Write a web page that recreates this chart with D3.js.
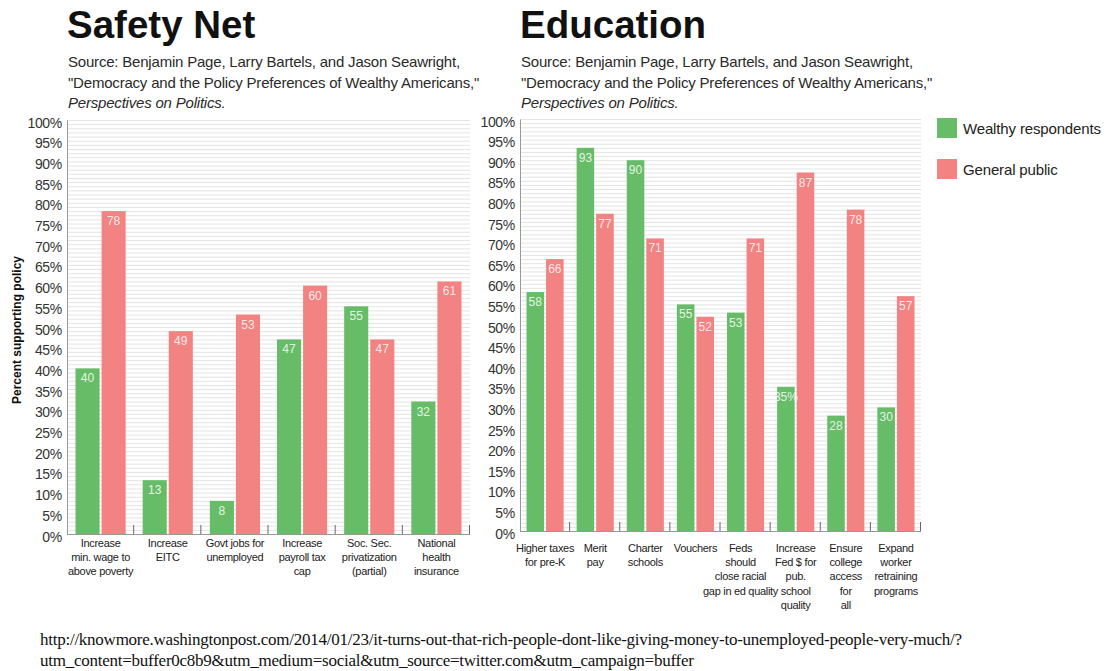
<!DOCTYPE html>
<html>
<head>
<meta charset="utf-8">
<script src="https://cdn.jsdelivr.net/npm/d3@7"></script>
<style>
  html, body { margin: 0; padding: 0; background: #fff; }
  svg { display: block; font-family: "Liberation Sans", Arial, sans-serif; }
</style>
</head>
<body>
<svg id="chart" width="1107" height="671"></svg>
<script>
// ---- Data ----
const seriesNames = ["Wealthy respondents", "General public"];

const safetyCategories = [
  ["Increase", "min. wage to", "above poverty"],
  ["Increase", "EITC"],
  ["Govt jobs for", "unemployed"],
  ["Increase", "payroll tax", "cap"],
  ["Soc. Sec.", "privatization", "(partial)"],
  ["National", "health", "insurance"]
];
const safetyWealthy = [40, 13, 8, 47, 55, 32];
const safetyPublic  = [78, 49, 53, 60, 47, 61];

const eduCategories = [
  ["Higher taxes", "for pre-K"],
  ["Merit", "pay"],
  ["Charter", "schools"],
  ["Vouchers"],
  ["Feds", "should", "close racial", "gap in ed quality"],
  ["Increase", "Fed $ for", "pub.", "school", "quality"],
  ["Ensure", "college", "access", "for", "all"],
  ["Expand", "worker", "retraining", "programs"]
];
const eduWealthy = [58, 93, 90, 55, 53, 35, 28, 30];
const eduPublic  = [66, 77, 71, 52, 71, 87, 78, 57];
const eduWealthyLabels = ["58", "93", "90", "55", "53", "35%", "28", "30"];

const yTicks = d3.range(0, 101, 5);
const sourceLines = [
  "Source: Benjamin Page, Larry Bartels, and Jason Seawright,",
  "\"Democracy and the Policy Preferences of Wealthy Americans,\"",
  "Perspectives on Politics."
];
const footerLines = [
  "http://knowmore.washingtonpost.com/2014/01/23/it-turns-out-that-rich-people-dont-like-giving-money-to-unemployed-people-very-much/?",
  "utm_content=buffer0c8b9&utm_medium=social&utm_source=twitter.com&utm_campaign=buffer"
];

const GREEN = "#67bd67";
const RED = "#f28382";

const svg = d3.select("#chart");
svg.append("rect").attr("width", 1107).attr("height", 671).attr("fill", "#fff");

function panel(opts) {
  const { left, right, top, bottom, title, cats, wealthy, pub, wLabels, padOuter, labelTop, labelShift } = opts;
  const g = svg.append("g");

  // title
  g.append("text").attr("x", left).attr("y", 38)
    .attr("font-size", 38.5).attr("font-weight", "bold").attr("fill", "#111")
    .text(title);

  // source
  sourceLines.forEach((s, i) => {
    g.append("text").attr("x", left + 1).attr("y", 67 + i * 20.5)
      .attr("font-size", 15).attr("fill", "#2a2a2a")
      .attr("font-style", i === 2 ? "italic" : "normal")
      .attr("letter-spacing", "-0.2")
      .text(s);
  });

  const x = d3.scaleBand().domain(d3.range(cats.length)).range([left, right]).paddingInner(0).paddingOuter(0);
  const y = d3.scaleLinear().domain([0, 100]).range([bottom, top]);

  // grid lines every 1%
  g.append("g").selectAll("line").data(d3.range(1, 101)).join("line")
    .attr("x1", left).attr("x2", right)
    .attr("y1", d => y(d) + 0.5).attr("y2", d => y(d) + 0.5)
    .attr("stroke", "#e4e4e4").attr("stroke-width", 1);

  // y axis
  const yAxis = d3.axisLeft(y).tickValues(yTicks).tickFormat(d => d + "%").tickSize(0).tickPadding(5);
  const ya = g.append("g").attr("transform", `translate(${left},0)`).call(yAxis);
  ya.select(".domain").attr("stroke", "#999");
  ya.selectAll("text").attr("font-size", 14).attr("fill", "#333")
    .attr("font-family", null).attr("letter-spacing", "-0.3").attr("dy", "0.5em");

  // bars
  const bw = x.bandwidth();
  const barW = (bw - 2 * padOuter - 2) / 2;
  const data = cats.map((c, i) => ({ i, w: wealthy[i], p: pub[i], wl: wLabels ? wLabels[i] : String(wealthy[i]) }));

  const bars = g.append("g");
  bars.selectAll("rect.w").data(data).join("rect").attr("class", "w")
    .attr("x", d => x(d.i) + padOuter).attr("width", barW)
    .attr("y", d => y(d.w)).attr("height", d => y(0) - y(d.w)).attr("fill", GREEN);
  bars.selectAll("rect.p").data(data).join("rect").attr("class", "p")
    .attr("x", d => x(d.i) + padOuter + barW + 2).attr("width", barW)
    .attr("y", d => y(d.p)).attr("height", d => y(0) - y(d.p)).attr("fill", RED);

  // value labels
  bars.selectAll("text.wl").data(data).join("text").attr("class", "wl")
    .attr("x", d => x(d.i) + padOuter + barW / 2).attr("y", d => y(d.w) + 14)
    .attr("text-anchor", "middle").attr("font-size", 12).attr("fill", "#fff").attr("fill-opacity", 0.85)
    .text(d => d.wl);
  bars.selectAll("text.pl").data(data).join("text").attr("class", "pl")
    .attr("x", d => x(d.i) + padOuter + barW * 1.5 + 2).attr("y", d => y(d.p) + 14)
    .attr("text-anchor", "middle").attr("font-size", 12).attr("fill", "#fff").attr("fill-opacity", 0.85)
    .text(d => d.p);

  // baseline and category ticks
  g.append("line").attr("x1", left).attr("x2", right).attr("y1", y(0) + 0.5).attr("y2", y(0) + 0.5)
    .attr("stroke", "#999");
  g.append("g").selectAll("line").data(d3.range(1, cats.length + 1)).join("line")
    .attr("x1", d => (d === cats.length ? right : x(d)) - 0.5).attr("x2", d => (d === cats.length ? right : x(d)) - 0.5)
    .attr("y1", y(0)).attr("y2", y(0) - 9).attr("stroke", "#666");

  // category labels
  const cx = i => x(i) + bw / 2 + ((labelShift && labelShift[i]) || 0);
  const cl = g.append("g").selectAll("text").data(data).join("text")
    .attr("text-anchor", "middle").attr("font-size", 11).attr("fill", "#222")
    .attr("letter-spacing", "-0.3")
    .attr("x", d => cx(d.i)).attr("y", labelTop);
  cl.selectAll("tspan").data(d => cats[d.i].map(s => ({ s, cx: cx(d.i) }))).join("tspan")
    .attr("x", t => t.cx).attr("dy", (t, j) => j === 0 ? 0 : 14.2).text(t => t.s);

  return { x, y };
}

panel({ left: 67, right: 470, top: 120, bottom: 534, title: "Safety Net",
  cats: safetyCategories, wealthy: safetyWealthy, pub: safetyPublic, padOuter: 8.5, labelTop: 547 });
panel({ left: 520, right: 921, top: 119, bottom: 531, title: "Education",
  cats: eduCategories, wealthy: eduWealthy, pub: eduPublic, wLabels: eduWealthyLabels, padOuter: 6.5, labelTop: 552,
  labelShift: { 4: -5 } });

// y axis title
svg.append("text").attr("transform", "translate(21,330) rotate(-90)")
  .attr("text-anchor", "middle").attr("font-size", 12).attr("font-weight", "bold").attr("fill", "#111")
  .text("Percent supporting policy");

// legend
const legend = svg.append("g").attr("transform", "translate(937,118)");
seriesNames.forEach((n, i) => {
  legend.append("rect").attr("x", 0).attr("y", i * 41).attr("width", 20).attr("height", 20)
    .attr("fill", i === 0 ? GREEN : RED);
  legend.append("text").attr("x", 26).attr("y", i * 41 + 15.5).attr("font-size", 15).attr("fill", "#222")
    .attr("letter-spacing", "-0.15")
    .text(n);
});

// footer
footerLines.forEach((s, i) => {
  svg.append("text").attr("x", 40).attr("y", 645 + i * 21)
    .style("font-family", "'Liberation Serif', 'Times New Roman', serif")
    .attr("font-size", 17).attr("letter-spacing", "-0.25").attr("fill", "#111").text(s);
});
</script>
</body>
</html>
